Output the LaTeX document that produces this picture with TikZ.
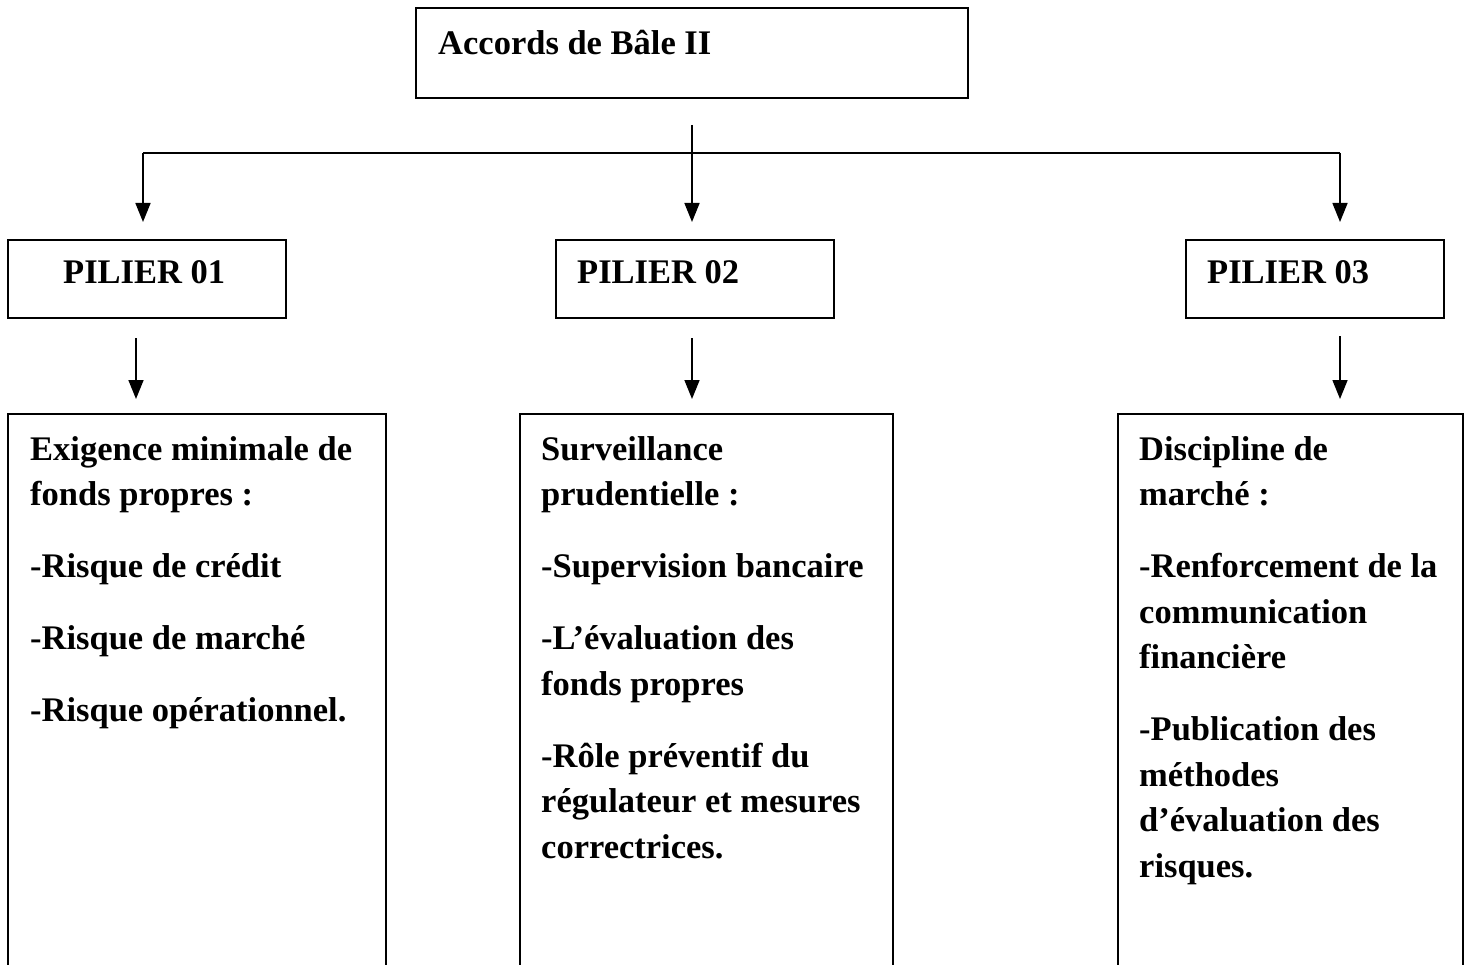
\documentclass[tikz,border=0pt]{standalone}
\usepackage{fontspec}
\setmainfont{Liberation Serif}
\usetikzlibrary{arrows.meta}
\begin{document}
\begin{tikzpicture}[x=1pt,y=-1pt,
  boxline/.style={draw=black,line width=1.4pt},
  conn/.style={line width=1.6pt},
  arr/.style={conn,-{Triangle[width=15pt,length=19pt]}},
  txt/.style={anchor=base west,inner sep=0pt,font=\fontsize{34.5}{40}\selectfont\bfseries}]
\useasboundingbox (0,0) rectangle (1471,965);
\clip (0,0) rectangle (1471,965);

% top box
\draw[boxline] (416,8) rectangle (968,98);
\node[txt] (ttop) at (438,55) {Accords de Bâle II};

% connectors from top
\coordinate (vtop) at (692,125);
\coordinate (hl) at (143,153);
\coordinate (hm) at (692,153);
\coordinate (hr) at (1340,153);
\coordinate (a1) at (143,222);
\coordinate (a2) at (692,222);
\coordinate (a3) at (1340,222);
\draw[conn] (vtop) -- (hm);
\draw[conn] (hl) -- (hr);
\draw[arr] (hl) -- (a1);
\draw[arr] (hm) -- (a2);
\draw[arr] (hr) -- (a3);

% pillar boxes
\draw[boxline] (8,240) rectangle (286,318);
\draw[boxline] (556,240) rectangle (834,318);
\draw[boxline] (1186,240) rectangle (1444,318);
\node[txt] (p1) at (63,284) {PILIER 01};
\node[txt] (p2) at (577,284) {PILIER 02};
\node[txt] (p3) at (1207,284) {PILIER 03};

% arrows to detail boxes
\coordinate (b1s) at (136,338);
\coordinate (b1e) at (136,399);
\coordinate (b2s) at (692,338);
\coordinate (b2e) at (692,399);
\coordinate (b3s) at (1340,336);
\coordinate (b3e) at (1340,399);
\draw[arr] (b1s) -- (b1e);
\draw[arr] (b2s) -- (b2e);
\draw[arr] (b3s) -- (b3e);

% detail boxes (open at bottom, extending past page)
\draw[boxline] (8,980) -- (8,414) -- (386,414) -- (386,980);
\draw[boxline] (520,980) -- (520,414) -- (893,414) -- (893,980);
\draw[boxline] (1118,980) -- (1118,414) -- (1463,414) -- (1463,980);

% box 1 text
\node[txt] (l11) at (30,460) {Exigence minimale de};
\node[txt] (l12) at (30,505.5) {fonds propres :};
\node[txt] (l13) at (30,577.5) {-Risque de crédit};
\node[txt] (l14) at (30,649.5) {-Risque de marché};
\node[txt] (l15) at (30,721.5) {-Risque opérationnel.};

% box 2 text
\node[txt] (l21) at (541,460) {Surveillance};
\node[txt] (l22) at (541,505.5) {prudentielle :};
\node[txt] (l23) at (541,577.5) {-Supervision bancaire};
\node[txt] (l24) at (541,649.5) {-L’évaluation des};
\node[txt] (l25) at (541,695) {fonds propres};
\node[txt] (l26) at (541,767) {-Rôle préventif du};
\node[txt] (l27) at (541,812.5) {régulateur et mesures};
\node[txt] (l28) at (541,858) {correctrices.};

% box 3 text
\node[txt] (l31) at (1139,460) {Discipline de};
\node[txt] (l32) at (1139,505.5) {marché :};
\node[txt] (l33) at (1139,577.5) {-Renforcement de la};
\node[txt] (l34) at (1139,623) {communication};
\node[txt] (l35) at (1139,668.5) {financière};
\node[txt] (l36) at (1139,740.5) {-Publication des};
\node[txt] (l37) at (1139,786) {méthodes};
\node[txt] (l38) at (1139,831.5) {d’évaluation des};
\node[txt] (l39) at (1139,877) {risques.};
\end{tikzpicture}
\end{document}
